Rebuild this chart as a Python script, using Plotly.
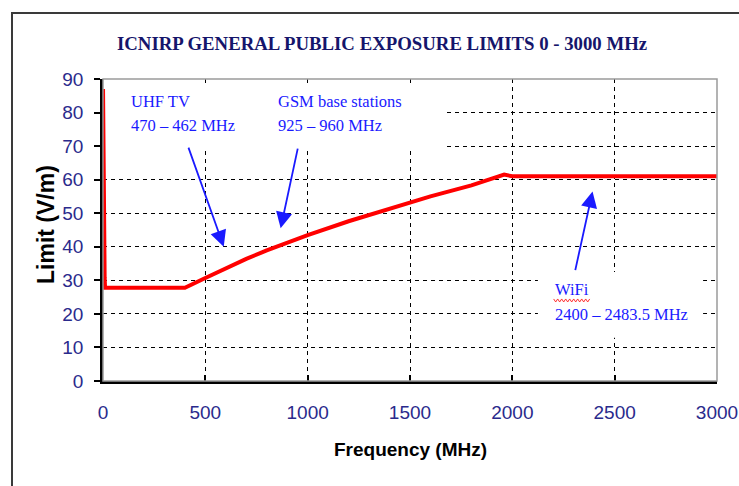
import plotly.graph_objects as go

# ---- data ----
freq_mhz = [0.15, 1, 2, 3, 4, 6, 8, 10, 400, 500, 600, 700, 800, 900, 1000,
            1200, 1400, 1600, 1800, 1960, 2000, 3000]
limit_vm = [87, 87, 61.5, 50, 43.5, 35.5, 30.8, 27.8, 27.8, 30.7, 33.7, 36.4, 38.9,
            41.3, 43.5, 47.6, 51.4, 55.0, 58.3, 61.5, 61, 61]

x_ticks = [0, 500, 1000, 1500, 2000, 2500, 3000]
y_ticks = [0, 10, 20, 30, 40, 50, 60, 70, 80, 90]

title_text = "ICNIRP GENERAL PUBLIC EXPOSURE LIMITS 0 - 3000 MHz"
x_title = "Frequency (MHz)"
y_title = "Limit (V/m)"

# annotation labels: (line1, line2, text_x, line1_y, line2_y, arrow_tail_x, arrow_tail_y, arrow_tip_x, arrow_tip_y)
notes = [
    ("UHF TV", "470 – 462 MHz", 127, 83.4, 76.0, 415, 70.0, 590, 40.0),
    ("GSM base stations", "925 – 960 MHz", 845, 83.4, 76.0, 953, 69.7, 868, 45.5),
    ("WiFi", "2400 – 2483.5 MHz", 2199, 27.2, 19.7, 2306, 32.6, 2392, 56.5),
]

# ---- layout constants (pixels) ----
W, H = 739, 486
L, R, T, B = 103, 717, 79, 381
pw, ph = R - L, B - T

def px_x(p):
    return (p - L) / pw

def px_y(p):
    return (B - p) / ph

fig = go.Figure()

fig.add_trace(go.Scatter(
    x=freq_mhz, y=limit_vm, mode="lines",
    line=dict(color="#ff0000", width=4),
    hoverinfo="skip", showlegend=False,
))

shapes = []
# outer frame
shapes.append(dict(type="rect", xref="paper", yref="paper",
                   x0=px_x(12), x1=px_x(760), y0=px_y(500), y1=px_y(13),
                   line=dict(color="#3a3a3a", width=2), fillcolor="rgba(0,0,0,0)", layer="below"))
# gray plot-area border
shapes.append(dict(type="rect", xref="paper", yref="paper",
                   x0=0, x1=1, y0=0, y1=1,
                   line=dict(color="#9a9a9a", width=1.5), fillcolor="rgba(0,0,0,0)", layer="above"))
# white text-box backgrounds hiding gridlines
shapes.append(dict(type="rect", xref="x", yref="y", x0=5, x1=1671, y0=69.4, y1=88.6,
                   line=dict(width=0), fillcolor="white", layer="between"))
shapes.append(dict(type="rect", xref="x", yref="y", x0=2125, x1=2932, y0=12.9, y1=32.5,
                   line=dict(width=0), fillcolor="white", layer="between"))

# red spell-check squiggle under "WiFi"
zx0, zx1, zy = 2202, 2378, 24.0
n = 18
pts = []
for i in range(n + 1):
    xx = zx0 + (zx1 - zx0) * i / n
    yy = zy + (0.45 if i % 2 == 0 else -0.45)
    pts.append(f"{xx:.1f},{yy:.2f}")
shapes.append(dict(type="path", xref="x", yref="y",
                   path="M " + " L ".join(pts),
                   line=dict(color="#ff3030", width=1), layer="above"))

annotations = []
blue = "#1a1aff"
note_font = dict(family="Liberation Serif, Times New Roman, serif", size=16.5, color=blue)
for l1, l2, tx, y1, y2, axx, ayy, hx, hy in notes:
    annotations.append(dict(x=tx, y=y1, xref="x", yref="y", text=l1, showarrow=False,
                            xanchor="left", yanchor="middle", font=note_font))
    annotations.append(dict(x=tx, y=y2, xref="x", yref="y", text=l2, showarrow=False,
                            xanchor="left", yanchor="middle", font=note_font))
    annotations.append(dict(x=hx, y=hy, xref="x", yref="y", ax=axx, ay=ayy, axref="x", ayref="y",
                            text="", showarrow=True, arrowhead=2, arrowsize=1.8, arrowwidth=1.8,
                            arrowcolor=blue, standoff=0))

# title
annotations.append(dict(x=px_x(382), y=px_y(43), xref="paper", yref="paper", text=f"<b>{title_text}</b>",
                        showarrow=False, xanchor="center", yanchor="middle",
                        font=dict(family="Liberation Serif, Times New Roman, serif", size=18.8, color="#15156b")))
# axis titles
annotations.append(dict(x=px_x(410), y=px_y(449), xref="paper", yref="paper", text=f"<b>{x_title}</b>",
                        showarrow=False, xanchor="center", yanchor="middle",
                        font=dict(family="Liberation Sans, Arial, sans-serif", size=19, color="#000000")))
annotations.append(dict(x=px_x(46), y=px_y(225), xref="paper", yref="paper", text=f"<b>{y_title}</b>",
                        showarrow=False, xanchor="center", yanchor="middle", textangle=-90,
                        font=dict(family="Liberation Sans, Arial, sans-serif", size=23, color="#000000")))

tick_font = dict(family="Liberation Sans, Arial, sans-serif", size=19, color="#2a2a8c")

fig.update_layout(
    width=W, height=H,
    margin=dict(l=L, r=W - R, t=T, b=H - B, pad=0, autoexpand=False),
    paper_bgcolor="white", plot_bgcolor="white",
    shapes=shapes, annotations=annotations,
    showlegend=False,
    xaxis=dict(range=[0, 3000], tickvals=x_ticks, ticktext=[str(v) for v in x_ticks],
               showgrid=True, gridcolor="#000000", gridwidth=1, griddash="4px,4px",
               showline=True, linecolor="#000000", linewidth=2.5,
               ticks="inside", ticklen=6, tickwidth=2, tickcolor="#000000",
               tickfont=tick_font, ticklabelstandoff=12, zeroline=False, fixedrange=True,
               automargin=False),
    yaxis=dict(range=[0, 90], tickvals=y_ticks, ticktext=[str(v) for v in y_ticks],
               showgrid=True, gridcolor="#000000", gridwidth=1, griddash="4px,4px",
               showline=True, linecolor="#000000", linewidth=2.5,
               ticks="outside", ticklen=6, tickwidth=2, tickcolor="#000000",
               tickfont=tick_font, ticklabelstandoff=7, zeroline=False, fixedrange=True,
               automargin=False),
)

fig.write_html("out.html", config={"displayModeBar": False},
               post_script="document.body.style.margin='0';document.body.style.overflow='hidden';")
